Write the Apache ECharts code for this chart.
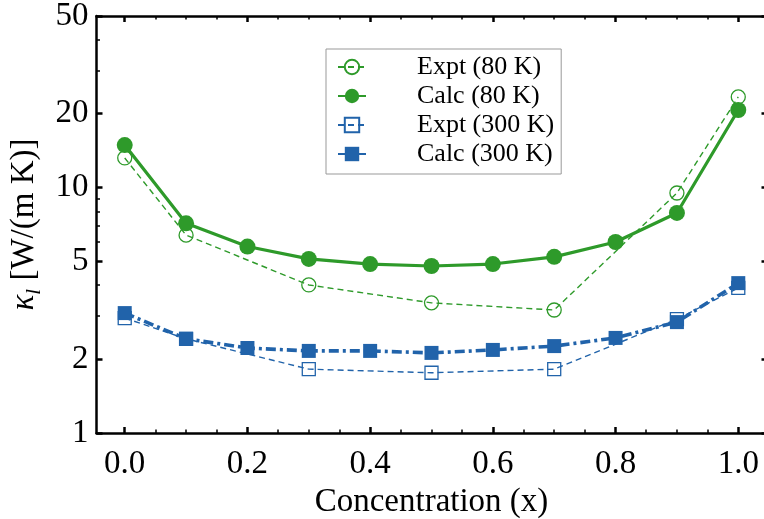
<!DOCTYPE html>
<html><head><meta charset="utf-8">
<script src="https://cdn.jsdelivr.net/npm/echarts@6/dist/echarts.min.js"></script>
<style>html,body{margin:0;padding:0;background:#fff}#c{width:764px;height:519px}</style>
</head><body><div id="c"></div><script>
// ---- data ----
const xCalc   = [0.0, 0.1, 0.2, 0.3, 0.4, 0.5, 0.6, 0.7, 0.8, 0.9, 1.0];
const calc80  = [14.9, 7.15, 5.75, 5.12, 4.88, 4.79, 4.88, 5.22, 6.0, 7.88, 20.7];
const calc300 = [3.08, 2.42, 2.22, 2.16, 2.16, 2.12, 2.18, 2.26, 2.44, 2.83, 4.08];
const xExpt   = [0.0, 0.1, 0.3, 0.5, 0.7, 0.9, 1.0];
const expt80  = [13.2, 6.4, 4.01, 3.39, 3.17, 9.5, 23.4];
const expt300 = [2.94, 2.42, 1.82, 1.76, 1.82, 2.91, 3.90];
const seriesNames = ['Expt (80 K)', 'Calc (80 K)', 'Expt (300 K)', 'Calc (300 K)'];
const xMajorTicks = [0.0, 0.2, 0.4, 0.6, 0.8, 1.0];
const xMinorTicks = [0.05, 0.1, 0.15, 0.25, 0.3, 0.35, 0.45, 0.5, 0.55, 0.65, 0.7, 0.75, 0.85, 0.9, 0.95];
const yMajorTicks = [1, 2, 5, 10, 20, 50];
const yMinorTicks = [3, 4, 6, 7, 8, 9, 30, 40];
const xTitle = 'Concentration (x)';

// ---- style ----
const FONT = '"Liberation Serif", "Times New Roman", serif';
const FS = 33;
const G = '#2e9a2a';
const B = '#2163aa';
const XMIN = -0.046, XMAX = 1.046;

function pair(xs, ys) { return xs.map((x, i) => [x, ys[i]]); }

function xAx(pos, ticks, len, w, major) {
  return {
    type: 'value', position: pos, min: XMIN, max: XMAX,
    axisLine: { show: major, onZero: false, lineStyle: { color: '#000', width: 2.5 } },
    axisTick: { show: true, inside: true, length: len, customValues: ticks, lineStyle: { color: '#000', width: w } },
    axisLabel: { show: false },
    splitLine: { show: false }
  };
}
function yAx(pos, ticks, len, w, major) {
  return {
    type: 'log', logBase: 10, position: pos, min: 1, max: 50,
    axisLine: { show: major, onZero: false, lineStyle: { color: '#000', width: 2.5 } },
    axisTick: { show: true, inside: true, length: len, customValues: ticks, lineStyle: { color: '#000', width: w } },
    axisLabel: { show: false },
    splitLine: { show: false }, minorTick: { show: false }, minorSplitLine: { show: false }
  };
}

const xb = xAx('bottom', xMajorTicks, 6, 2.5, true);
xb.axisLabel = { show: true, customValues: xMajorTicks, formatter: v => v.toFixed(1),
  fontFamily: FONT, fontSize: FS, color: '#000', margin: 15 };
xb.name = xTitle; xb.nameLocation = 'middle'; xb.nameGap = 42;
xb.nameTextStyle = { fontFamily: FONT, fontSize: FS, color: '#000' };

const yl = yAx('left', yMajorTicks, 6, 2.5, true);
yl.axisLabel = { show: true, customValues: yMajorTicks, fontFamily: FONT, fontSize: FS, color: '#000', margin: 8 };
yl.name = '{k|κ}{s|l}{r| [W/(m K)]}';
yl.nameLocation = 'middle'; yl.nameGap = 51; yl.nameRotate = 90;
yl.nameTextStyle = { fontFamily: FONT, fontSize: FS, color: '#000',
  rich: {
    k: { fontFamily: FONT, fontSize: FS, fontStyle: 'italic', lineHeight: 40, verticalAlign: 'middle', color: '#000' },
    s: { fontFamily: FONT, fontSize: 21, fontStyle: 'italic', lineHeight: 40, verticalAlign: 'bottom', color: '#000' },
    r: { fontFamily: FONT, fontSize: FS, lineHeight: 40, verticalAlign: 'middle', color: '#000' }
  } };

const option = {
  animation: false,
  backgroundColor: '#fff',
  grid: { left: 96.5, right: -2.5, top: 16, bottom: 86, containLabel: false, outerBoundsMode: 'none' },
  xAxis: [xb, xAx('top', xMajorTicks, 6, 2.5, true), xAx('bottom', xMinorTicks, 3.5, 1.5, false), xAx('top', xMinorTicks, 3.5, 1.5, false)],
  yAxis: [yl, yAx('right', yMajorTicks, 5, 2.5, true), yAx('left', yMinorTicks, 3.5, 1.5, false)],
  legend: {
    orient: 'vertical', left: 326, top: 49,
    padding: [5, 7, 7, 11],
    itemWidth: 28, itemHeight: 18, itemGap: 3,
    borderColor: '#999', borderWidth: 1,
    textStyle: { fontFamily: FONT, fontSize: 26, lineHeight: 26, color: '#000', padding: [0, 0, 0, 46] },
    data: seriesNames
  },
  series: [
    { name: seriesNames[0], type: 'line', data: pair(xExpt, expt80), symbol: 'circle', symbolSize: 14,
      itemStyle: { color: 'rgba(255,255,255,0)', borderColor: G, borderWidth: 1.3 },
      lineStyle: { color: G, width: 1.4, type: [6, 4] }, emphasis: { disabled: true }, z: 2 },
    { name: seriesNames[1], type: 'line', data: pair(xCalc, calc80), symbol: 'circle', symbolSize: 16,
      itemStyle: { color: G }, lineStyle: { color: G, width: 3.2 }, emphasis: { disabled: true }, z: 3 },
    { name: seriesNames[2], type: 'line', data: pair(xExpt, expt300), symbol: 'rect', symbolSize: 13,
      itemStyle: { color: 'rgba(255,255,255,0)', borderColor: B, borderWidth: 1.3 },
      lineStyle: { color: B, width: 1.4, type: [6, 4] }, emphasis: { disabled: true }, z: 2 },
    { name: seriesNames[3], type: 'line', data: pair(xCalc, calc300), symbol: 'rect', symbolSize: 14,
      itemStyle: { color: B }, lineStyle: { color: B, width: 3.6, type: [10, 4, 3, 4] }, emphasis: { disabled: true }, z: 3 }
  ]
};
const chart = echarts.init(document.getElementById('c'), null, { renderer: 'canvas' });
chart.setOption(option);
</script></body></html>
